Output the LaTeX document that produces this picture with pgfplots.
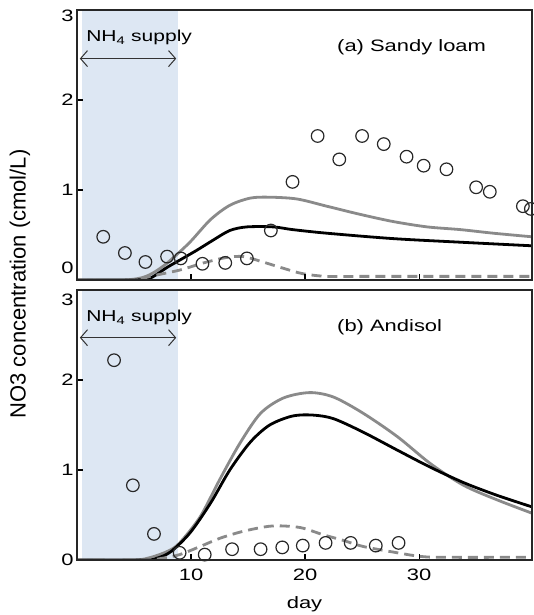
\documentclass[border=0pt]{standalone}
\usepackage{fontspec}
\setmainfont{Liberation Sans}[FakeStretch=1.33]
\newfontfamily\ylfont{Liberation Sans}
\usepackage{pgfplots}
\pgfplotsset{compat=1.18}
\usetikzlibrary{arrows.meta}

\definecolor{shade}{RGB}{221,231,243}
\definecolor{simgray}{RGB}{138,138,138}
\definecolor{obsline}{RGB}{40,40,40}

\newcommand{\shiftlab}[2]{\raisebox{#1}[\height][\depth]{#2}}

\pgfplotsset{
  panel/.style={
    scale only axis, width=455pt, height=270pt,
    xmin=0, xmax=39.9, ymin=0, ymax=3,
    xtick={10,20,30}, ytick={0,1,2,3},
    tick align=inside, xtick pos=bottom, ytick pos=left,
    major tick length=6pt,
    axis line style={line width=1.4pt, black!85},
    tick style={line width=1.2pt, black},
    /pgf/number format/assume math mode=true,
    tick label style={font=\fontsize{16.5}{18}\selectfont},
    label style={font=\fontsize{16.5}{18}\selectfont},
    axis on top,
  },
  obs/.style={only marks, mark=o, mark size=6.3pt,
    mark options={line width=1.2pt, draw=obsline}},
  simA/.style={no marks, smooth, tension=0.5, line width=2.8pt, simgray},
  simB/.style={no marks, smooth, tension=0.5, line width=2.8pt, black},
  simC/.style={no marks, smooth, tension=0.5, line width=2.8pt, simgray,
    dash pattern=on 10pt off 6pt},
}

\begin{document}
\begin{tikzpicture}
\useasboundingbox (-77pt,-55pt) rectangle (456pt,560pt);

% (b) Andisol
\begin{axis}[panel, at={(0pt,0pt)}, anchor=south west,
    yticklabels={0,1,2,\shiftlab{-10pt}{3}},
    xticklabel style={yshift=-5pt},
    xlabel={day}, xlabel style={yshift=-9pt}]
  \addplot[draw=none, fill=shade] coordinates {(0.4,3) (8.9,3)} \closedcycle;
  \addplot[simA] coordinates {
    (0,0) (5,0) (6.5,0.03) (8.0,0.10) (9.0,0.19) (10.8,0.48) (12.5,0.89)
    (14.3,1.30) (16.1,1.63) (18.1,1.80) (20.4,1.86) (22.5,1.81) (25.1,1.63)
    (28.1,1.37) (31.0,1.07) (33.9,0.83) (36.8,0.67) (39.9,0.52)};
  \addplot[simB] coordinates {
    (0,0) (6,0) (7.0,0.02) (8.2,0.09) (9.9,0.30) (11.7,0.63) (13.4,1.0)
    (15.2,1.31) (16.9,1.50) (18.9,1.60) (20.7,1.61) (22.5,1.57) (25.1,1.42)
    (28.1,1.22) (31.0,1.03) (33.9,0.86) (36.8,0.72) (39.9,0.59)};
  \addplot[simC] coordinates {
    (0,0) (6,0) (7.5,0.02) (9.0,0.06) (10.8,0.15) (12.5,0.24) (14.3,0.31)
    (16.1,0.36) (17.5,0.38) (19.6,0.36) (21.6,0.28) (23.3,0.22) (25.1,0.15)
    (28.1,0.08) (30.1,0.04) (32,0.03) (39.9,0.03)};
  \addplot[obs] coordinates {
    (3.25,2.22) (4.9,0.83) (6.75,0.29) (9.0,0.08) (11.2,0.06) (13.6,0.12)
    (16.1,0.12) (18.0,0.14) (19.8,0.16) (21.8,0.19) (24.0,0.19) (26.2,0.16)
    (28.2,0.19)};
  \draw[{Straight Barb[length=7pt,width=16pt]}-{Straight Barb[length=7pt,width=16pt]}, line width=1pt, black!80]
    (axis cs:0.25,2.47) -- (axis cs:8.7,2.47);
  \node[anchor=west, font=\fontsize{15.8}{18}\selectfont, inner sep=0pt] at (axis cs:0.8,2.69) {NH\textsubscript{4} supply};
  \node[anchor=west, font=\fontsize{16.5}{18}\selectfont, inner sep=0pt] at (axis cs:22.8,2.59) {(b) Andisol};
\end{axis}

% (a) Sandy loam
\begin{axis}[panel, at={(0pt,280pt)}, anchor=south west, xticklabels={},
    yticklabels={\shiftlab{12pt}{0},1,2,\shiftlab{-6pt}{3}}]
  \addplot[draw=none, fill=shade] coordinates {(0.4,3) (8.9,3)} \closedcycle;
  \addplot[simA] coordinates {
    (0,0) (4,0) (5.5,0.02) (6.4,0.06) (7.3,0.13) (8.2,0.22) (9.9,0.42)
    (11.7,0.67) (13.4,0.83) (15.2,0.91) (16.9,0.92) (19.3,0.90) (21.9,0.82)
    (24.8,0.73) (27.7,0.65) (30.7,0.59) (33.6,0.56) (36.5,0.52) (39.9,0.48)};
  \addplot[simB] coordinates {
    (0,0) (5,0) (6.4,0.02) (7.9,0.14) (9.0,0.22) (10.5,0.33) (11.9,0.44)
    (13.4,0.55) (14.9,0.59) (17.2,0.59) (18.9,0.56) (21.9,0.52) (27.7,0.46)
    (33.6,0.42) (39.9,0.38)};
  \addplot[simC] coordinates {
    (0,0) (5,0) (6.4,0.04) (9.0,0.11) (11.1,0.19) (13.1,0.25) (14.6,0.26)
    (16.3,0.20) (18.1,0.13) (19.8,0.07) (21.9,0.04) (25,0.04) (39.9,0.04)};
  \addplot[obs] coordinates {
    (2.3,0.48) (4.2,0.30) (6.0,0.20) (7.9,0.26) (9.1,0.24) (11.0,0.18)
    (13.0,0.19) (14.9,0.24) (17.0,0.55) (18.9,1.09) (21.1,1.60) (23.0,1.34)
    (25.0,1.60) (26.9,1.51) (28.9,1.37) (30.4,1.27) (32.4,1.23) (35.0,1.03)
    (36.2,0.98) (39.1,0.82) (39.8,0.79)};
  \draw[{Straight Barb[length=7pt,width=16pt]}-{Straight Barb[length=7pt,width=16pt]}, line width=1pt, black!80]
    (axis cs:0.25,2.46) -- (axis cs:8.7,2.46);
  \node[anchor=west, font=\fontsize{15.8}{18}\selectfont, inner sep=0pt] at (axis cs:0.8,2.69) {NH\textsubscript{4} supply};
  \node[anchor=west, font=\fontsize{16.5}{18}\selectfont, inner sep=0pt] at (axis cs:22.8,2.59) {(a) Sandy loam};
\end{axis}

\node[rotate=90, font=\ylfont\fontsize{22}{24}\selectfont] at (-57pt,276pt) {NO3 concentration (cmol/L)};
\end{tikzpicture}
\end{document}
